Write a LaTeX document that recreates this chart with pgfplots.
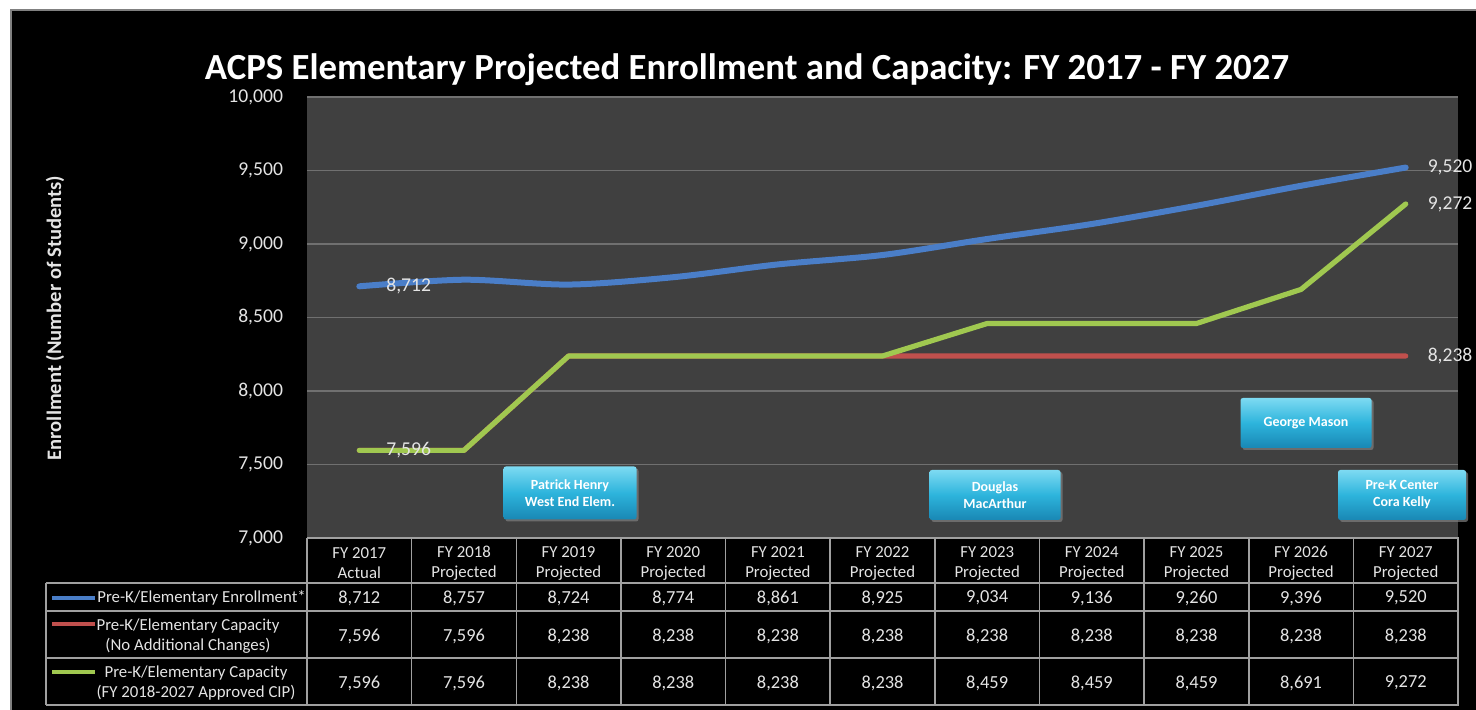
\documentclass[border=0pt]{standalone}
\usepackage{pgfplots}
\pgfplotsset{compat=1.18}
\usepackage{fontspec}
\setmainfont{Carlito}
\usetikzlibrary{shadows}
\definecolor{plotbg}{RGB}{64,64,64}
\definecolor{gridc}{RGB}{112,112,112}
\definecolor{enr}{RGB}{74,126,200}
\definecolor{capred}{RGB}{192,80,77}
\definecolor{capgreen}{RGB}{160,200,80}
\definecolor{txt}{RGB}{228,228,228}
\definecolor{tabline}{RGB}{160,160,160}
\definecolor{btntop}{RGB}{125,218,242}
\definecolor{btnmid}{RGB}{45,180,220}
\definecolor{btnbot}{RGB}{25,135,180}
\tikzset{
  tabtxt/.style={text=txt, font=\fontsize{8.4}{10}\selectfont, inner sep=0pt},
  tabnum/.style={text=txt, font=\fontsize{9.2}{10}\selectfont, inner sep=0pt},
  button/.style={rounded corners=1.2pt, top color=btntop, bottom color=btnbot, middle color=btnmid,
     text=white, font=\bfseries\fontsize{7}{8.5}\selectfont, align=center,
     drop shadow={opacity=0.7, shadow xshift=1pt, shadow yshift=-1pt}}
}
\begin{document}
\begin{tikzpicture}
\begin{scope}[x=0.5pt,y=-0.5pt,shift={(0pt,355pt)}]
  \fill[white] (0,0) rectangle (1476,710);
  \fill[black] (11,10) rectangle (1476,710);
  \draw[gray,line width=0.6pt] (11,710)--(11,10)--(1476,10);
  \node[anchor=base, white, font=\bfseries\fontsize{18.4}{22}\selectfont, inner sep=0pt] at (747,80)
    {ACPS Elementary Projected Enrollment and Capacity: FY 2017 - FY 2027};
  \node[rotate=90, text=txt, font=\bfseries\fontsize{10.3}{12}\selectfont] at (55,318)
    {Enrollment (Number of Students)};
\end{scope}

\begin{axis}[
  at={(153.5pt,86pt)}, anchor=south west,
  width=575.5pt, height=220.5pt, scale only axis,
  xmin=0, xmax=11, ymin=7000, ymax=10000,
  ytick={7000,7500,...,10000}, xtick=\empty,
  scaled y ticks=false,
  ymajorgrids, grid style={gridc, line width=0.75pt},
  axis background/.style={fill=plotbg},
  axis line style={draw=none},
  major tick length=0pt,
  yticklabel style={text=txt, font=\fontsize{9.8}{11}\selectfont, xshift=-8.5pt,
    /pgf/number format/1000 sep={,}, /pgf/number format/assume math mode=true},
  clip=false,
]
\addplot[capred, line width=2.6pt, line cap=round, line join=round] coordinates {
  (0.5,7596) (1.5,7596) (2.5,8238) (3.5,8238) (4.5,8238) (5.5,8238)
  (6.5,8238) (7.5,8238) (8.5,8238) (9.5,8238) (10.5,8238)};
\addplot[capgreen, line width=2.6pt, line cap=round, line join=round] coordinates {
  (0.5,7596) (1.5,7596) (2.5,8238) (3.5,8238) (4.5,8238) (5.5,8238)
  (6.5,8459) (7.5,8459) (8.5,8459) (9.5,8691) (10.5,9272)};
\addplot[enr, line width=3pt, smooth, line cap=round, line join=round] coordinates {
  (0.5,8712) (1.5,8757) (2.5,8724) (3.5,8774) (4.5,8861) (5.5,8925)
  (6.5,9034) (7.5,9136) (8.5,9260) (9.5,9396) (10.5,9520)};
\node[anchor=west, text=txt, font=\fontsize{9.8}{11}\selectfont, xshift=10pt] at (axis cs:0.5,8712) {8,712};
\node[anchor=west, text=txt, font=\fontsize{9.8}{11}\selectfont, xshift=10pt] at (axis cs:0.5,7596) {7,596};
\node[anchor=west, text=txt, font=\fontsize{9.8}{11}\selectfont, xshift=7.5pt] at (axis cs:10.5,9520) {9,520};
\node[anchor=west, text=txt, font=\fontsize{9.8}{11}\selectfont, xshift=7.5pt] at (axis cs:10.5,9272) {9,272};
\node[anchor=west, text=txt, font=\fontsize{9.8}{11}\selectfont, xshift=7.5pt] at (axis cs:10.5,8238) {8,238};
\end{axis}

\begin{scope}[x=0.5pt,y=-0.5pt,shift={(0pt,355pt)}]
  % buttons
  \node[button, minimum width=66.5pt, minimum height=26.5pt] at (570,493) {Patrick Henry\\West End Elem.};
  \node[button, minimum width=65.5pt, minimum height=25pt] at (995,495) {Douglas\\MacArthur};
  \node[button, minimum width=65.5pt, minimum height=25pt] at (1306,423) {George Mason};
  \node[button, minimum width=64pt, minimum height=25pt] at (1402,495) {Pre-K Center\\Cora Kelly};
  % table grid
  \begin{scope}[draw=tabline, line width=0.75pt]
    \draw (307,538) -- (1459,538);
    \draw (46,583) -- (1459,583);
    \draw (46,611) -- (1459,611);
    \draw (46,658) -- (1459,658);
    \draw (46,705) -- (1459,705);
    \draw (46,583) -- (46,705);
    \foreach \i in {0,...,11} \draw ({307+\i*104.64},538) -- ({307+\i*104.64},705);
  \end{scope}
  % header
  \node[tabtxt, align=center] at ({307+0.5*104.64},563) {FY 2017\\Actual};
  \foreach \y [count=\i from 1] in {2018,2019,2020,2021,2022,2023,2024,2025,2026,2027}
    \node[tabtxt, align=center] at ({307+(\i+0.5)*104.64},563) {FY \y\\Projected};
  % rows
  \foreach \t [count=\i from 0] in {{8,712},{8,757},{8,724},{8,774},{8,861},{8,925},{9,034},{9,136},{9,260},{9,396},{9,520}}
    \node[tabnum] at ({307+(\i+0.5)*104.64},598) {\t};
  \foreach \t [count=\i from 0] in {{7,596},{7,596},{8,238},{8,238},{8,238},{8,238},{8,238},{8,238},{8,238},{8,238},{8,238}}
    \node[tabnum] at ({307+(\i+0.5)*104.64},636) {\t};
  \foreach \t [count=\i from 0] in {{7,596},{7,596},{8,238},{8,238},{8,238},{8,238},{8,459},{8,459},{8,459},{8,691},{9,272}}
    \node[tabnum] at ({307+(\i+0.5)*104.64},683) {\t};
  % legend column
  \draw[enr, line width=2pt] (52,598) -- (95,598);
  \draw[capred, line width=2pt] (52,624) -- (95,624);
  \draw[capgreen, line width=2pt] (52,672) -- (95,672);
  \node[tabtxt, anchor=west] at (97,598) {Pre-K/Elementary Enrollment*};
  \node[tabtxt, align=center] at (188,636) {Pre-K/Elementary Capacity\\(No Additional Changes)};
  \node[tabtxt, align=center] at (196,683) {Pre-K/Elementary Capacity\\(FY 2018-2027 Approved CIP)};
  \pgfresetboundingbox
  \useasboundingbox (0,0) rectangle (1476,710);
\end{scope}
\end{tikzpicture}
\end{document}
